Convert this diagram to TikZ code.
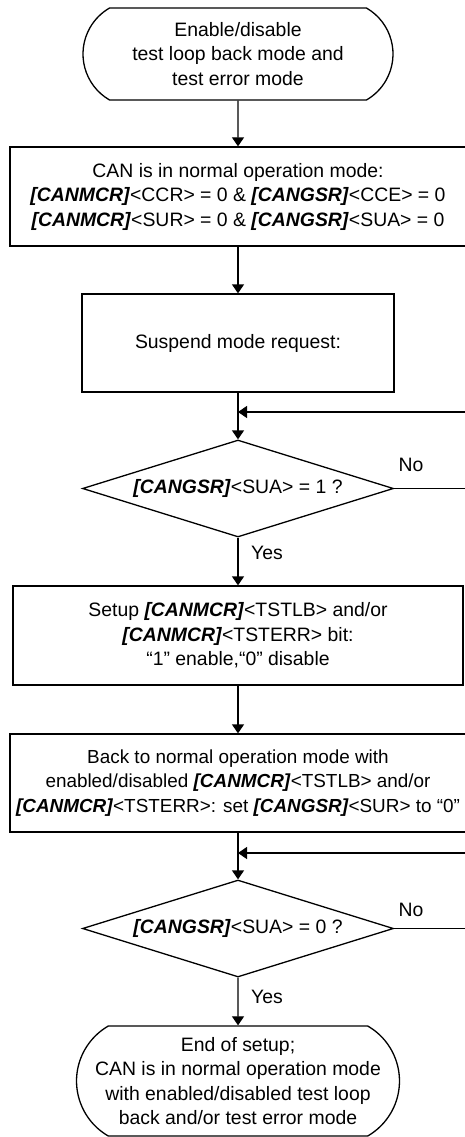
\documentclass[tikz,border=0pt]{standalone}
\usepackage{fontspec}
\setmainfont{Liberation Sans}
\usetikzlibrary{shapes.geometric,shapes.misc,arrows.meta}
\newcommand{\regname}[1]{\textbf{\textit{[#1]}}}

\begin{document}
\begin{tikzpicture}[
term/.style={
	draw, line width=1.3pt, rounded rectangle,
	rounded rectangle arc length=120,
	minimum width=312pt, inner sep=1pt, align=center
},
proc/.style={
	draw, line width=1.3pt, rectangle,
	inner sep=1pt, align=center
},
decide/.style={
	draw, line width=1.3pt, diamond, aspect=3.2,
	minimum width=311pt, minimum height=97pt, inner sep=0pt
},
flow/.style={line width=1.3pt, -{Triangle[length=9pt,width=12pt]}},
x=1pt, y=-1pt, font=\fontsize{19.4}{24.5}\selectfont
]
\useasboundingbox (0,0) rectangle (464,1137);
\node[term, minimum height=92pt] (start) at (238,54)
	{Enable/disable\\test loop back mode and\\test error mode};
\node[proc, minimum width=456pt, minimum height=99pt] (normal) at (238,196.5)
	{CAN is in normal operation mode:\\
	\regname{CANMCR}<CCR> = 0 \& \regname{CANGSR}<CCE> = 0\\
	\regname{CANMCR}<SUR> = 0 \& \regname{CANGSR}<SUA> = 0};
\node[proc, minimum width=312pt, minimum height=98pt] (suspend) at (238,343)
	{Suspend mode request:};
\coordinate (back1) at (238,412);
\node[decide] (sua1) at (238,488.5) {\regname{CANGSR}<SUA> = 1 ?};
\node (no1) at (411,465) {No};
\node (yes1) at (267,553) {Yes};
\node[proc, minimum width=450pt, minimum height=99pt] (setup) at (238,635.5)
	{Setup \regname{CANMCR}<TSTLB> and/or\\
	\regname{CANMCR}<TSTERR> bit:\\
	“1” enable,“0” disable};
\node[proc, minimum width=456pt, minimum height=98pt,
	font=\fontsize{18.9}{24.5}\selectfont] (backnormal) at (238,783)
	{Back to normal operation mode with\\
	enabled/disabled \regname{CANMCR}<TSTLB> and/or\\
	\regname{CANMCR}<TSTERR>: set \regname{CANGSR}<SUR> to “0”};
\coordinate (back2) at (238,853);
\node[decide] (sua0) at (238,928.5) {\regname{CANGSR}<SUA> = 0 ?};
\node (no2) at (411,910) {No};
\node (yes2) at (267,997) {Yes};
\node[term, minimum height=110pt] (finish) at (238,1081)
	{End of setup;\\CAN is in normal operation mode\\with enabled/disabled test loop\\back and/or test error mode};
% main line
\draw[flow] (start) -- (normal);
\draw[flow] (normal) -- (suspend);
\draw[flow] (suspend) -- (sua1);
\draw[flow] (sua1) -- (setup);
\draw[flow] (setup) -- (backnormal);
\draw[flow] (backnormal) -- (sua0);
\draw[flow] (sua0) -- (finish);
% wait loops
\draw[flow] (sua1.east) -- ++(90,0) |- (back1);
\draw[flow] (sua0.east) -- ++(90,0) |- (back2);
\end{tikzpicture}
\end{document}
